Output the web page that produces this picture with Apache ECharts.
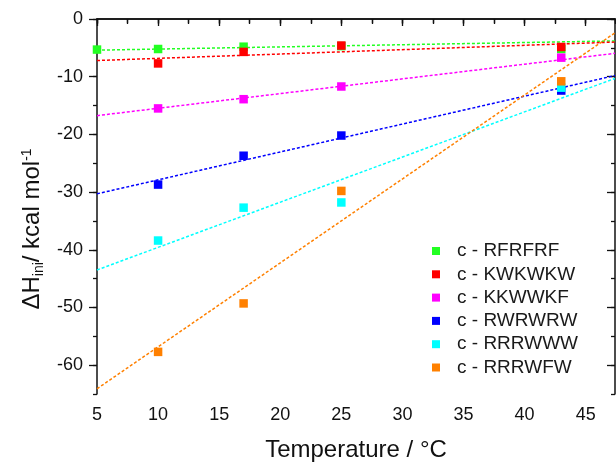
<!DOCTYPE html>
<html>
<head>
<meta charset="utf-8">
<script src="https://cdn.jsdelivr.net/npm/echarts@6/dist/echarts.min.js"></script>
<style>
html,body{margin:0;padding:0;background:#fff;}
#chart{width:616px;height:467px;}
</style>
</head>
<body>
<div id="chart"></div>
<script>
// ---- data ----
const temperatures = [5, 10, 17, 25, 43];
const seriesNames = ['c - RFRFRF', 'c - KWKWKW', 'c - KKWWKF', 'c - RWRWRW', 'c - RRRWWW', 'c - RRRWFW'];
const RFRFRF = [-5.3, -5.2, -4.8, -4.7, -5.2];
const KWKWKW = [null, -7.7, -5.7, -4.6, -4.85];
const KKWWKF = [null, -15.5, -13.9, -11.7, -6.7];
const RWRWRW = [null, -28.7, -23.7, -20.2, -12.4];
const RRRWWW = [null, -38.4, -32.7, -31.8, -11.9];
const RRRWFW = [null, -57.7, -49.3, -29.8, -10.8];
const seriesValues = [RFRFRF, KWKWKW, KKWWKF, RWRWRW, RRRWWW, RRRWFW];
// linear fit lines: value at left edge (x=5) and right edge of axis
const fitX = [5, 47.4];
const fitStart = [-5.4, -7.2, -16.75, -30.3, -43.5, -64.1];
const fitEnd = [-3.8, -4.0, -5.95, -9.8, -10.3, -2.4];
const xTickLabels = [5, 10, 15, 20, 25, 30, 35, 40, 45];
const yTickLabels = [0, -10, -20, -30, -40, -50, -60];
const colors = ['#22ff22', '#ff0000', '#ff00ff', '#0000ff', '#00ffff', '#ff8000'];

const chart = echarts.init(document.getElementById('chart'), null, {renderer: 'canvas'});
const FONT = 'Liberation Sans, Arial, sans-serif';
const lineCol = '#111';

const series = [];
seriesNames.forEach((n, i) => {
  series.push({
    name: 'fit ' + n, type: 'line', silent: true, showSymbol: false, symbol: 'none', z: 1,
    data: [[fitX[0], fitStart[i]], [fitX[1], fitEnd[i]]],
    lineStyle: {color: colors[i], width: 1.5, type: [3, 2]}
  });
});
seriesNames.forEach((n, i) => {
  const data = [];
  temperatures.forEach((t, j) => { if (seriesValues[i][j] !== null) data.push([t, seriesValues[i][j]]); });
  series.push({
    name: n, type: 'scatter', symbol: 'rect', symbolSize: 8.5, z: 3 + i,
    itemStyle: {color: colors[i], opacity: 1}, data: data
  });
});

const noSplit = {show: false};
const option = {
  animation: false,
  color: colors,
  grid: {left: 97, right: 1, top: 19, bottom: 67},
  legend: {
    data: seriesNames, orient: 'vertical', left: 427, top: 236,
    icon: 'rect', itemWidth: 8, itemHeight: 8, itemGap: 3.3,
    textStyle: {fontFamily: FONT, fontSize: 19, color: '#1a1a1a', lineHeight: 20, padding: [0, 0, 0, 12]}
  },
  xAxis: [
    {type: 'value', position: 'bottom', min: 5, max: 47.4, interval: 5,
     axisLine: {show: true, lineStyle: {color: lineCol, width: 1.5}},
     axisTick: {show: true, inside: false, length: 7, lineStyle: {color: lineCol, width: 1.3}, customValues: xTickLabels},
     axisLabel: {fontFamily: FONT, fontSize: 18, color: '#111', margin: 12, customValues: xTickLabels},
     splitLine: noSplit,
     name: 'Temperature / °C', nameLocation: 'middle', nameGap: 44,
     nameTextStyle: {fontFamily: FONT, fontSize: 24, color: '#111', lineHeight: 24}},
    {type: 'value', position: 'bottom', min: 5, max: 47.4, interval: 2.5,
     axisLine: {show: false}, axisLabel: {show: false}, splitLine: noSplit,
     axisTick: {show: true, inside: false, length: 4, lineStyle: {color: lineCol, width: 1.3}}},
    {type: 'value', position: 'top', min: 5, max: 47.4, interval: 2.5,
     axisLine: {show: true, lineStyle: {color: lineCol, width: 1.5}}, axisLabel: {show: false}, splitLine: noSplit,
     axisTick: {show: true, inside: true, length: 5, lineStyle: {color: lineCol, width: 1.3}}}
  ],
  yAxis: [
    {type: 'value', position: 'left', min: -65, max: 0, interval: 5,
     axisLine: {show: true, lineStyle: {color: lineCol, width: 1.5}},
     axisTick: {show: true, inside: false, length: 8, lineStyle: {color: lineCol, width: 1.3}, customValues: yTickLabels},
     axisLabel: {fontFamily: FONT, fontSize: 18, color: '#111', margin: 14, customValues: yTickLabels},
     splitLine: noSplit,
     name: '{a|ΔH}{sub|ini}{a|/ kcal mol}{sup|-1}', nameLocation: 'middle', nameRotate: 90, nameGap: 47,
     nameTextStyle: {
       fontFamily: FONT, color: '#111', padding: [0, 45, 0, 0],
       rich: {
         a: {fontFamily: FONT, fontSize: 24, color: '#111', lineHeight: 26, verticalAlign: 'top'},
         sub: {fontFamily: FONT, fontSize: 14, color: '#111', lineHeight: 14, verticalAlign: 'bottom', padding: [18, 0, 0, 0]},
         sup: {fontFamily: FONT, fontSize: 14, color: '#111', lineHeight: 16, verticalAlign: 'top'}
       }
     }},
    {type: 'value', position: 'left', min: -65, max: 0, interval: 5,
     axisLine: {show: false}, axisLabel: {show: false}, splitLine: noSplit,
     axisTick: {show: true, inside: false, length: 4, lineStyle: {color: lineCol, width: 1.3}}},
    {type: 'value', position: 'right', min: -65, max: 0, interval: 5,
     axisLine: {show: true, lineStyle: {color: lineCol, width: 1.5}}, axisLabel: {show: false}, splitLine: noSplit,
     axisTick: {show: true, inside: true, length: 8, lineStyle: {color: lineCol, width: 1.3}, customValues: yTickLabels}},
    {type: 'value', position: 'right', min: -65, max: 0, interval: 5,
     axisLine: {show: false}, axisLabel: {show: false}, splitLine: noSplit,
     axisTick: {show: true, inside: true, length: 4, lineStyle: {color: lineCol, width: 1.3}}}
  ],
  series: series
};
chart.setOption(option);
</script>
</body>
</html>
